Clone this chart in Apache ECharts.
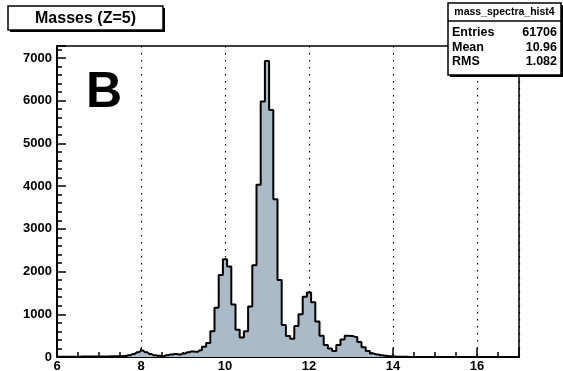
<!DOCTYPE html>
<html>
<head>
<meta charset="utf-8">
<script src="https://cdn.jsdelivr.net/npm/echarts@6/dist/echarts.min.js"></script>
<style>html,body{margin:0;padding:0;background:#fff;}#c{width:563px;height:371px;}</style>
</head>
<body>
<div id="c"></div>
<script>
// Bin centres 6.0, 6.1, ... (bin width 0.1)
const binStart = 6.0;
const binWidth = 0.1;
const counts = [
  5, 5, 5, 5, 8, 8, 10, 10, 10, 10, 12, 12, 12, 15, 15,        // 6.0 - 7.4
  20, 25, 40, 70, 110,                                           // 7.5 - 7.9
  150, 110, 70, 40, 30, 20, 40, 60, 70, 60,                      // 8.0 - 8.9
  80, 110, 130, 120, 160, 240, 330, 600, 1150, 1920,             // 9.0 - 9.9
  2290, 2120, 1230, 640, 455, 600, 1180, 2150, 4030, 5980,       // 10.0 - 10.9
  6930, 5780, 3690, 1800, 750, 490, 430, 725, 1000, 1410,        // 11.0 - 11.9
  1510, 1280, 830, 500, 280, 200, 140, 280, 410, 500,            // 12.0 - 12.9
  490, 470, 350, 230, 140, 80, 60, 40, 30, 20,                   // 13.0 - 13.9
  10, 8, 5, 3, 2, 0, 0, 0, 0, 0,                                 // 14.0 - 14.9
  0, 0, 0, 0, 0, 0, 0, 0, 0, 0,                                  // 15.0 - 15.9
  0, 0, 0, 0, 0, 0, 0, 0, 0, 0                                   // 16.0 - 16.9
];
const xMajorTicks = [6, 8, 10, 12, 14, 16];
const yMajorTicks = [0, 1000, 2000, 3000, 4000, 5000, 6000, 7000];
const titleText = 'Masses (Z=5)';
const panelLetter = 'B';
const statsName = 'mass_spectra_hist4';
const statsLabels = ['Entries', 'Mean', 'RMS'];
const statsValues = ['61706', '10.96', '1.082'];

const histData = counts.map((v, i) => [+(binStart + i * binWidth).toFixed(2), v]);

const FONT = 'Liberation Sans';
const chart = echarts.init(document.getElementById('c'), null, {renderer: 'canvas'});

const gridPos = {left: 57, right: 44, top: 46, bottom: 14};

const option = {
  animation: false,
  backgroundColor: '#fff',
  grid: Object.assign({show: true, borderColor: '#000', borderWidth: 1.5, backgroundColor: 'transparent',
    containLabel: false, outerBoundsMode: 'none'}, gridPos),
  xAxis: [
    {
      type: 'value', min: 6, max: 17, interval: 0.5,
      axisLine: {show: true, lineStyle: {color: '#000', width: 2}},
      axisTick: {show: true, inside: true, length: 5, lineStyle: {color: '#000', width: 1.5}},
      axisLabel: {show: false},
      splitLine: {show: false}
    },
    {
      type: 'value', min: 6, max: 17, interval: 2, position: 'bottom',
      axisLine: {show: false},
      axisTick: {show: true, inside: true, length: 9, lineStyle: {color: '#000', width: 1.5}},
      axisLabel: {
        show: true, margin: 3, color: '#000', fontFamily: FONT, fontWeight: 'bold', fontSize: 13,
        formatter: v => xMajorTicks.indexOf(v) >= 0 ? String(v) : ''
      },
      splitLine: {show: true, lineStyle: {color: '#000', type: [1.5, 5.5], width: 1.2}}
    }
  ],
  yAxis: [
    {
      type: 'value', min: 0, max: 7280, interval: 200,
      axisLine: {show: true, lineStyle: {color: '#000', width: 2}},
      axisTick: {show: true, inside: true, length: 5, lineStyle: {color: '#000', width: 1.5}},
      axisLabel: {show: false},
      splitLine: {show: false}
    },
    {
      type: 'value', min: 0, max: 7280, interval: 1000, position: 'left',
      axisLine: {show: false},
      axisTick: {show: true, inside: true, length: 9, lineStyle: {color: '#000', width: 1.5}},
      axisLabel: {
        show: true, margin: 5, color: '#000', fontFamily: FONT, fontWeight: 'bold', fontSize: 13,
        formatter: v => yMajorTicks.indexOf(v) >= 0 ? String(v) : ''
      },
      splitLine: {show: false}
    }
  ],
  series: [{
    type: 'line',
    xAxisIndex: 0, yAxisIndex: 0,
    step: 'middle',
    data: histData,
    symbol: 'none',
    lineStyle: {color: '#000', width: 2},
    areaStyle: {color: '#aabbc7', opacity: 1},
    z: 1
  }],
  graphic: [
    // title box shadow + box
    {type: 'rect', shape: {x: 10, y: 8, width: 155, height: 24}, style: {fill: '#000'}, z: 10},
    {type: 'rect', shape: {x: 8, y: 6, width: 155, height: 24}, style: {fill: '#fff', stroke: '#000', lineWidth: 1.5}, z: 11},
    {type: 'text', x: 85.5, y: 18.5, style: {text: titleText, fill: '#000', font: 'bold 16px "Liberation Sans"', align: 'center', verticalAlign: 'middle'}, z: 12},
    // panel letter
    {type: 'text', x: 86, y: 93, style: {text: panelLetter, fill: '#000', font: 'bold 50px "Liberation Sans"', align: 'left', verticalAlign: 'middle'}, z: 12},
    // stats box
    {type: 'rect', shape: {x: 450, y: 5, width: 113, height: 72}, style: {fill: '#000'}, z: 10},
    {type: 'rect', shape: {x: 448, y: 3, width: 113, height: 72}, style: {fill: '#fff', stroke: '#000', lineWidth: 1.5}, z: 11},
    {type: 'line', shape: {x1: 448, y1: 21, x2: 561, y2: 21}, style: {stroke: '#000', lineWidth: 1.5}, z: 12},
    {type: 'text', x: 504.5, y: 12.5, style: {text: statsName, fill: '#000', font: 'bold 10.5px "Liberation Sans"', align: 'center', verticalAlign: 'middle'}, z: 12},
    ...statsLabels.map((t, i) => ({type: 'text', x: 452, y: 33 + i * 14.5, style: {text: t, fill: '#000', font: 'bold 12.5px "Liberation Sans"', align: 'left', verticalAlign: 'middle'}, z: 12})),
    ...statsValues.map((t, i) => ({type: 'text', x: 557, y: 33 + i * 14.5, style: {text: t, fill: '#000', font: 'bold 12.5px "Liberation Sans"', align: 'right', verticalAlign: 'middle'}, z: 12}))
  ]
};
chart.setOption(option);
</script>
</body>
</html>
